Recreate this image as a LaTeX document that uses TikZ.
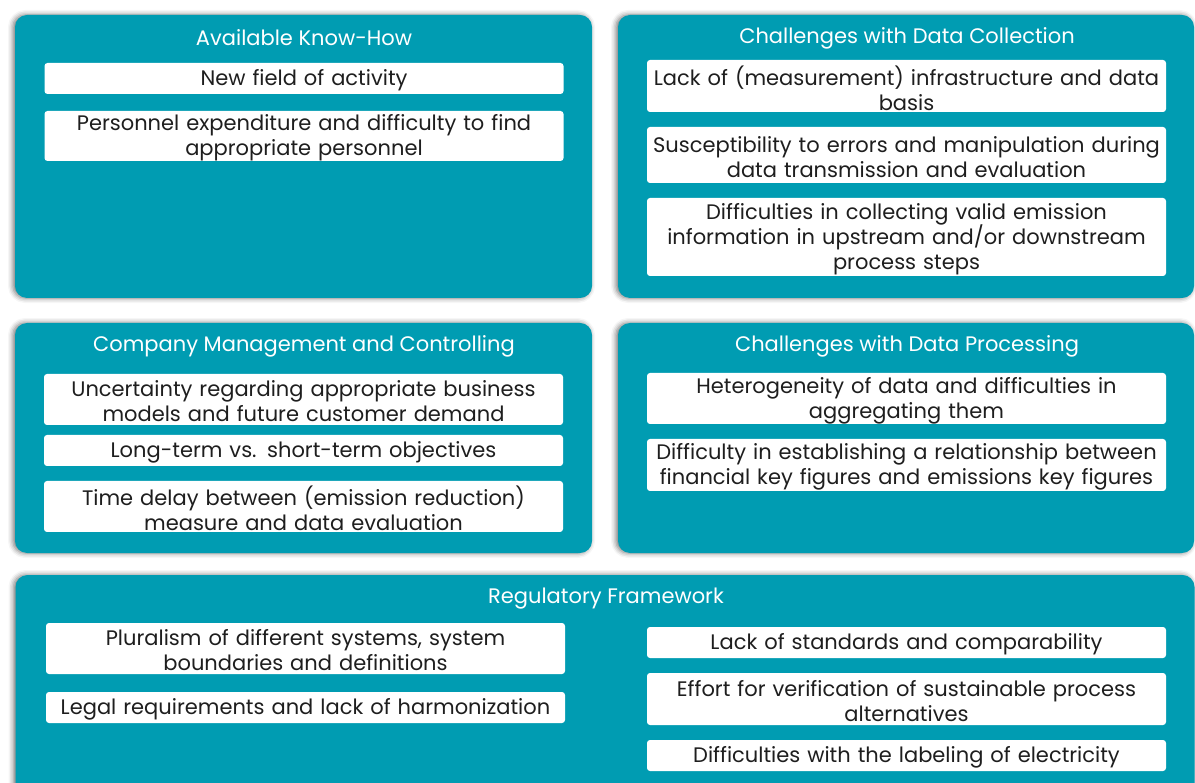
\documentclass[tikz,border=0pt]{standalone}
\usepackage{fontspec}
\setmainfont{Poppins}
\usetikzlibrary{shadows.blur}
\definecolor{teal1}{RGB}{0,156,178}
\definecolor{txt}{RGB}{30,30,30}
\tikzset{
  panel/.style={fill=teal1, rounded corners=12pt, inner sep=0pt,
    blur shadow={shadow xshift=-2pt, shadow yshift=0pt, shadow blur radius=5pt, shadow opacity=55}},
  ttl/.style={text=white, font=\fontsize{21}{25}\selectfont, inner sep=0pt},
  wbox/.style={fill=white, rounded corners=3pt, inner sep=0pt, minimum width=519pt,
    text width=517pt, align=center, text=txt,
    font={\fontsize{21}{25}\selectfont},
    execute at begin node={\setlength{\lineskiplimit}{-30pt}},
    execute at end node={\par\vspace*{-4pt}}},
}
\begin{document}
\begin{tikzpicture}[x=1pt,y=-1pt]
\useasboundingbox (0,0) rectangle (1195,783);
% panels
\node[panel, minimum width=577pt, minimum height=283pt] (p1) at (303.5,156.5) {};
\node[panel, minimum width=576pt, minimum height=283pt] (p2) at (906,156.5) {};
\node[panel, minimum width=577pt, minimum height=230pt] (p3) at (303.5,438) {};
\node[panel, minimum width=576pt, minimum height=230pt] (p4) at (906,438) {};
\node[panel, minimum width=1179pt, minimum height=230pt] (p5) at (605,690) {};
% titles
\node[ttl] (t1) at (304,38) {Available Know-How};
\node[ttl] (t2) at (907,38) {Challenges with Data Collection};
\node[ttl] (t3) at (304,346) {Company Management and Controlling};
\node[ttl] (t4) at (907,346) {Challenges with Data Processing};
\node[ttl] (t5) at (606,599) {Regulatory Framework};
% panel 1
\node[wbox, minimum height=31pt] (a1) at (304,78.5) {New field of activity};
\node[wbox, minimum height=50pt] (a2) at (304,136) {Personnel expenditure and difficulty to find\\appropriate personnel};
% panel 2
\node[wbox, minimum height=52pt] (b1) at (906.5,86) {Lack of (measurement) infrastructure and data\\basis};
\node[wbox, minimum height=56pt] (b2) at (906.5,155) {Susceptibility to errors and manipulation during\\data transmission and evaluation};
\node[wbox, minimum height=78pt] (b3) at (906.5,237) {Difficulties in collecting valid emission\\information in upstream and/or downstream\\process steps};
% panel 3
\node[wbox, minimum height=51pt] (c1) at (303.5,399.5) {Uncertainty regarding appropriate business\\models and future customer demand};
\node[wbox, minimum height=31pt] (c2) at (303.5,450.5) {Long-term vs. short-term objectives};
\node[wbox, minimum height=51pt] (c3) at (303.5,506.5) {Time delay between (emission reduction)\\measure and data evaluation};
% panel 4
\node[wbox, minimum height=51pt] (d1) at (906.5,398.5) {Heterogeneity of data and difficulties in\\aggregating them};
\node[wbox, minimum height=52pt] (d2) at (906.5,465) {Difficulty in establishing a relationship between\\financial key figures and emissions key figures};
% panel 5
\node[wbox, minimum height=51pt] (e1) at (305.5,648.5) {Pluralism of different systems, system\\boundaries and definitions};
\node[wbox, minimum height=31pt] (e2) at (305.5,707.5) {Legal requirements and lack of harmonization};
\node[wbox, minimum height=31pt] (e3) at (906.5,642.5) {Lack of standards and comparability};
\node[wbox, minimum height=52pt] (e4) at (906.5,699) {Effort for verification of sustainable process\\alternatives};
\node[wbox, minimum height=31pt] (e5) at (906.5,755.5) {Difficulties with the labeling of electricity};
\end{tikzpicture}
\end{document}
